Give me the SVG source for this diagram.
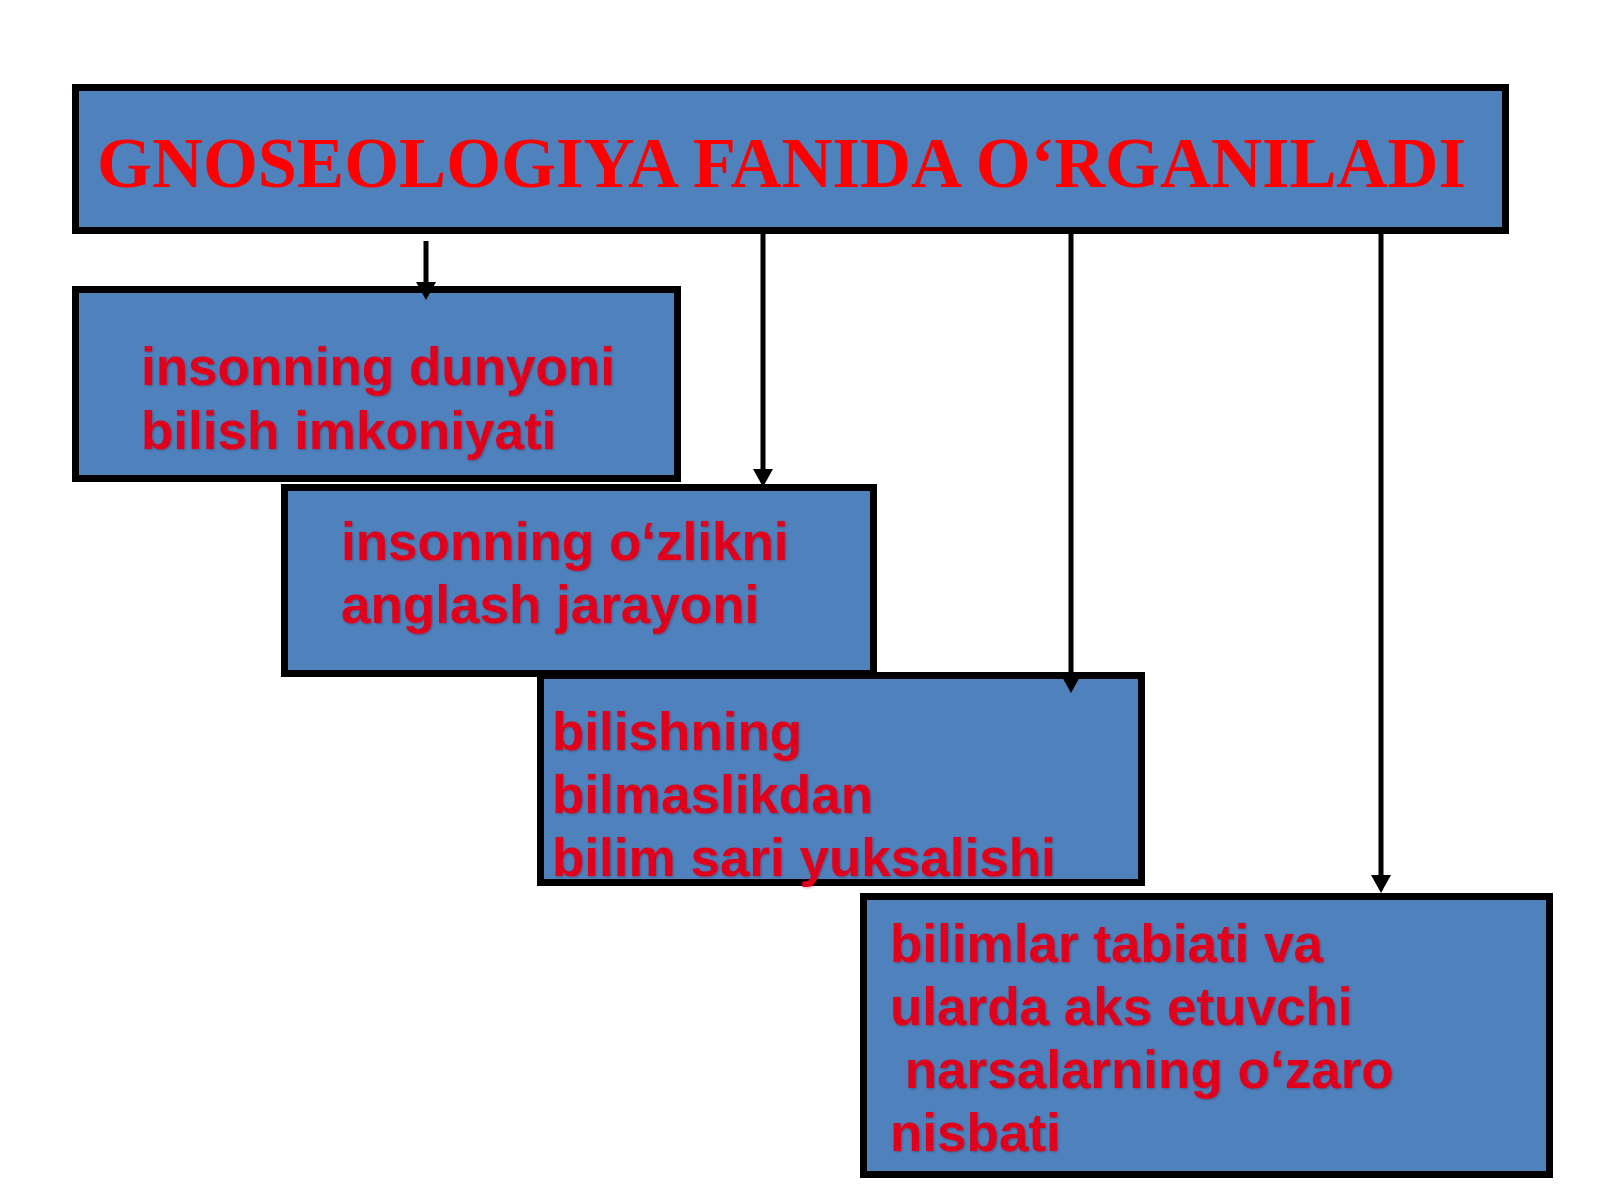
<svg xmlns="http://www.w3.org/2000/svg" width="1600" height="1200" viewBox="0 0 1600 1200">
  <style>
    .box { fill: #4f81bd; stroke: #000000; stroke-width: 7; }
    .title { font-family: "Liberation Serif", "Times New Roman", serif; font-weight: bold; font-size: 72px; fill: #ff0000; }
    .lbl { font-family: "Liberation Sans", Arial, sans-serif; font-weight: bold; font-size: 53px; fill: #e0001b; filter: url(#sh); }
    .conn { stroke: #000000; stroke-width: 5; fill: none; marker-end: url(#arr); }
  </style>
  <defs>
    <marker id="arr" markerUnits="userSpaceOnUse" markerWidth="18" markerHeight="20" viewBox="0 0 18 20" refX="8" refY="10" orient="auto">
      <path d="M0,0 L18,10 L0,20 z" fill="#000000"/>
    </marker>
    <filter id="sh" x="-5%" y="-20%" width="110%" height="140%">
      <feDropShadow dx="1" dy="1" stdDeviation="1" flood-color="#3a0a10" flood-opacity="0.3"/>
    </filter>
  </defs>
  <rect width="1600" height="1200" fill="#ffffff"/>

  <g id="node-title">
    <rect class="box" x="75.5" y="87.5" width="1430" height="143"/>
    <text class="title" x="97" y="187" textLength="1369" lengthAdjust="spacingAndGlyphs">GNOSEOLOGIYA FANIDA O‘RGANILADI</text>
  </g>

  <g id="node-1">
    <rect class="box" x="75.5" y="289.5" width="602" height="189"/>
    <text class="lbl" x="141" y="385">insonning dunyoni</text>
    <text class="lbl" x="141" y="449">bilish imkoniyati</text>
  </g>

  <g id="node-2">
    <rect class="box" x="284.5" y="487.5" width="589" height="186"/>
    <text class="lbl" x="341" y="560">insonning o‘zlikni</text>
    <text class="lbl" x="341" y="623">anglash jarayoni</text>
  </g>

  <g id="node-3">
    <rect class="box" x="540.5" y="675.5" width="601" height="207"/>
    <text class="lbl" x="552" y="750">bilishning</text>
    <text class="lbl" x="552" y="813">bilmaslikdan</text>
    <text class="lbl" x="552" y="876">bilim sari yuksalishi</text>
  </g>

  <g id="node-4">
    <rect class="box" x="863.5" y="896.5" width="686" height="278"/>
    <text class="lbl" x="890" y="962">bilimlar tabiati va</text>
    <text class="lbl" x="890" y="1025">ularda aks etuvchi</text>
    <text class="lbl" x="890" y="1088" xml:space="preserve"> narsalarning o‘zaro</text>
    <text class="lbl" x="890" y="1151">nisbati</text>
  </g>

  <g id="connectors">
    <line class="conn" x1="426" y1="241" x2="426" y2="290"/>
    <line class="conn" x1="763" y1="232" x2="763" y2="477"/>
    <line class="conn" x1="1071" y1="232" x2="1071" y2="683"/>
    <line class="conn" x1="1381" y1="232" x2="1381" y2="883"/>
  </g>
</svg>
